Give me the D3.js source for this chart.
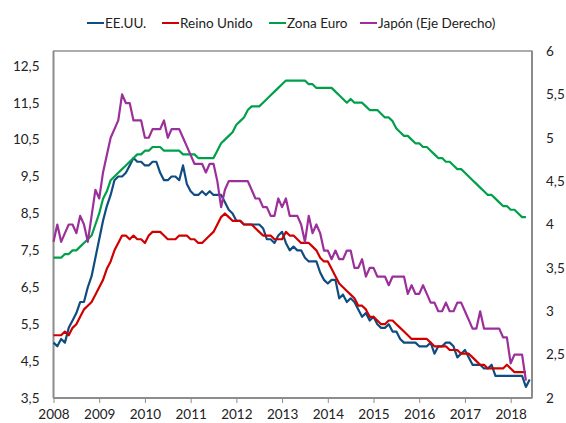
<!DOCTYPE html>
<html>
<head>
<meta charset="utf-8">
<script src="https://cdn.jsdelivr.net/npm/d3@7"></script>
<style>
  body { margin: 0; background: #fff; }
  svg text { font-family: Lato, "Open Sans", sans-serif; fill: #222; }
</style>
</head>
<body>
<svg id="chart" width="566" height="423"></svg>
<script>
// data: monthly, index 0 = Jan 2008
const years = [2008, 2009, 2010, 2011, 2012, 2013, 2014, 2015, 2016, 2017, 2018];
const leftTicks = [3.5, 4.5, 5.5, 6.5, 7.5, 8.5, 9.5, 10.5, 11.5, 12.5];
const rightTicks = [2, 2.5, 3, 3.5, 4, 4.5, 5, 5.5, 6];

const eeuu = [
  5.0,4.9,5.1,5.0,5.4,5.6,5.8,6.1,6.1,6.5,6.8,7.3,
  7.8,8.3,8.7,9.0,9.4,9.5,9.5,9.6,9.8,10.0,9.9,9.9,
  9.8,9.8,9.9,9.9,9.6,9.4,9.4,9.5,9.5,9.4,9.8,9.3,
  9.1,9.0,9.0,9.1,9.0,9.1,9.0,9.0,9.0,8.8,8.6,8.5,
  8.3,8.3,8.2,8.2,8.2,8.2,8.2,8.1,7.8,7.8,7.7,7.9,
  8.0,7.7,7.5,7.6,7.5,7.5,7.3,7.2,7.2,7.2,6.9,6.7,
  6.6,6.7,6.7,6.2,6.3,6.1,6.2,6.1,5.9,5.7,5.8,5.6,
  5.7,5.5,5.4,5.4,5.5,5.3,5.3,5.1,5.0,5.0,5.0,5.0,
  4.9,4.9,4.9,5.0,4.7,4.9,4.9,5.0,5.0,4.9,4.6,4.7,
  4.8,4.6,4.4,4.4,4.4,4.3,4.3,4.4,4.1,4.1,4.1,4.1,
  4.1,4.1,4.1,4.1,3.8,4.0
];
const reinoUnido = [
  5.2,5.2,5.2,5.3,5.2,5.4,5.5,5.7,5.9,6.0,6.1,6.3,
  6.5,6.7,7.0,7.2,7.5,7.7,7.9,7.9,7.8,7.9,7.8,7.8,
  7.7,7.9,8.0,8.0,8.0,7.9,7.8,7.8,7.8,7.9,7.9,7.9,
  7.8,7.8,7.7,7.7,7.8,7.9,8.0,8.2,8.4,8.5,8.4,8.3,
  8.3,8.3,8.2,8.2,8.2,8.1,8.0,7.9,7.9,7.9,7.8,7.8,
  7.8,8.0,7.9,7.9,7.8,7.7,7.7,7.7,7.6,7.5,7.3,7.2,
  7.2,7.0,6.8,6.6,6.5,6.4,6.3,6.2,6.0,6.0,5.9,5.7,
  5.7,5.6,5.5,5.5,5.6,5.6,5.5,5.4,5.3,5.2,5.1,5.1,
  5.1,5.1,5.1,5.0,4.9,4.9,4.9,4.9,4.8,4.8,4.8,4.7,
  4.7,4.7,4.6,4.5,4.4,4.4,4.3,4.3,4.3,4.3,4.3,4.4,
  4.3,4.2,4.2,4.2,4.2
];
const zonaEuro = [
  7.3,7.3,7.3,7.4,7.4,7.5,7.5,7.6,7.7,7.8,7.9,8.2,
  8.5,8.9,9.1,9.4,9.5,9.6,9.7,9.8,9.9,10.0,10.1,10.1,
  10.2,10.2,10.3,10.3,10.3,10.2,10.2,10.2,10.2,10.2,10.1,10.1,
  10.1,10.1,10.0,10.0,10.0,10.0,10.0,10.2,10.4,10.5,10.6,10.7,
  10.9,11.0,11.1,11.3,11.4,11.4,11.4,11.5,11.6,11.7,11.8,11.9,
  12.0,12.1,12.1,12.1,12.1,12.1,12.1,12.0,12.0,11.9,11.9,11.9,
  11.9,11.9,11.8,11.7,11.6,11.5,11.6,11.5,11.5,11.5,11.4,11.3,
  11.3,11.3,11.2,11.1,11.1,11.0,10.8,10.7,10.6,10.6,10.5,10.4,
  10.4,10.3,10.3,10.2,10.1,10.0,10.0,9.9,9.9,9.8,9.7,9.7,
  9.6,9.5,9.4,9.3,9.2,9.1,9.0,9.0,8.9,8.8,8.7,8.7,
  8.6,8.6,8.5,8.4,8.4
];
const japon = [
  3.8,4.0,3.8,3.9,4.0,4.0,3.9,4.1,4.0,3.8,4.1,4.4,
  4.3,4.6,4.8,5.0,5.1,5.2,5.5,5.4,5.4,5.2,5.2,5.2,
  5.0,5.0,5.1,5.1,5.1,5.2,5.0,5.1,5.1,5.1,5.0,4.9,
  4.8,4.7,4.7,4.7,4.6,4.7,4.7,4.5,4.2,4.4,4.5,4.5,
  4.5,4.5,4.5,4.5,4.4,4.3,4.3,4.2,4.2,4.1,4.1,4.3,
  4.2,4.3,4.1,4.1,4.1,4.0,3.8,4.1,3.9,4.0,3.9,3.7,
  3.7,3.6,3.7,3.6,3.6,3.7,3.7,3.5,3.5,3.6,3.4,3.5,
  3.5,3.4,3.4,3.4,3.3,3.4,3.4,3.4,3.4,3.2,3.3,3.2,
  3.2,3.3,3.2,3.1,3.1,3.0,3.0,3.1,3.0,3.0,3.1,3.1,
  3.0,2.9,2.8,2.8,3.0,2.8,2.8,2.8,2.8,2.8,2.7,2.7,
  2.4,2.5,2.5,2.5,2.2
];

const series = [
  { name: "EE.UU.", values: eeuu, color: "#0f4c81", axis: "left" },
  { name: "Reino Unido", values: reinoUnido, color: "#d00000", axis: "left" },
  { name: "Zona Euro", values: zonaEuro, color: "#00a04b", axis: "left" },
  { name: "Japón (Eje Derecho)", values: japon, color: "#9b309b", axis: "right" }
];

const svg = d3.select("#chart");
const plotL = 53.5, plotR = 532, plotT = 51, plotB = 398;

const x = d3.scaleLinear().domain([0, 125.6]).range([plotL, plotR]);
const yL = d3.scaleLinear().domain([3.5, 12.9]).range([plotB, plotT]);
const yR = d3.scaleLinear().domain([2, 6]).range([plotB, plotT]);

const fmt = d => String(d).replace(".", ",");

// plot border
svg.append("rect")
  .attr("x", plotL).attr("y", plotT)
  .attr("width", plotR - plotL).attr("height", plotB - plotT)
  .attr("fill", "none").attr("stroke", "#5a5a5a").attr("stroke-width", 1);

// left axis
const gl = svg.append("g").attr("transform", `translate(${plotL},0)`)
  .call(d3.axisLeft(yL).tickValues(leftTicks).tickSize(0).tickPadding(14).tickFormat(fmt));
gl.select(".domain").remove();
gl.selectAll("text").attr("font-size", 13.5);

// right axis
const gr = svg.append("g").attr("transform", `translate(${plotR},0)`)
  .call(d3.axisRight(yR).tickValues(rightTicks).tickSize(0).tickPadding(14).tickFormat(fmt));
gr.select(".domain").remove();
gr.selectAll("text").attr("font-size", 13.5);

// bottom axis
const gb = svg.append("g").attr("transform", `translate(0,${plotB})`)
  .call(d3.axisBottom(x).tickValues(years.map((d, i) => i * 12)).tickSize(5).tickPadding(6)
    .tickFormat((d, i) => years[i]));
gb.select(".domain").remove();
gb.selectAll("line").attr("stroke", "#8c8c8c");
gb.selectAll("text").attr("font-size", 13.5);

// axis lines (grey, a bit heavier)
svg.append("line").attr("x1", plotL).attr("x2", plotL).attr("y1", plotT).attr("y2", plotB)
  .attr("stroke", "#8c8c8c").attr("stroke-width", 2);
svg.append("line").attr("x1", plotR).attr("x2", plotR).attr("y1", plotT).attr("y2", plotB)
  .attr("stroke", "#8c8c8c").attr("stroke-width", 2);
svg.append("line").attr("x1", plotL).attr("x2", plotR).attr("y1", plotB).attr("y2", plotB)
  .attr("stroke", "#8c8c8c").attr("stroke-width", 2);

// lines
series.forEach(s => {
  const yS = s.axis === "left" ? yL : yR;
  const line = d3.line().x((d, i) => x(i)).y(d => yS(d));
  svg.append("path")
    .datum(s.values)
    .attr("d", line)
    .attr("fill", "none")
    .attr("stroke", s.color)
    .attr("stroke-width", 2.2)
    .attr("stroke-linejoin", "round");
});

// legend
const legendX = [87, 162, 269, 360];
const lg = svg.append("g").selectAll("g").data(series).join("g")
  .attr("transform", (d, i) => `translate(${legendX[i]},23)`);
lg.append("line").attr("x1", 0).attr("x2", 17).attr("y1", 0).attr("y2", 0)
  .attr("stroke", d => d.color).attr("stroke-width", 2);
lg.append("text").attr("x", 18).attr("y", 0).attr("dy", "0.35em")
  .attr("font-size", 13.5).text(d => d.name);
</script>
</body>
</html>
